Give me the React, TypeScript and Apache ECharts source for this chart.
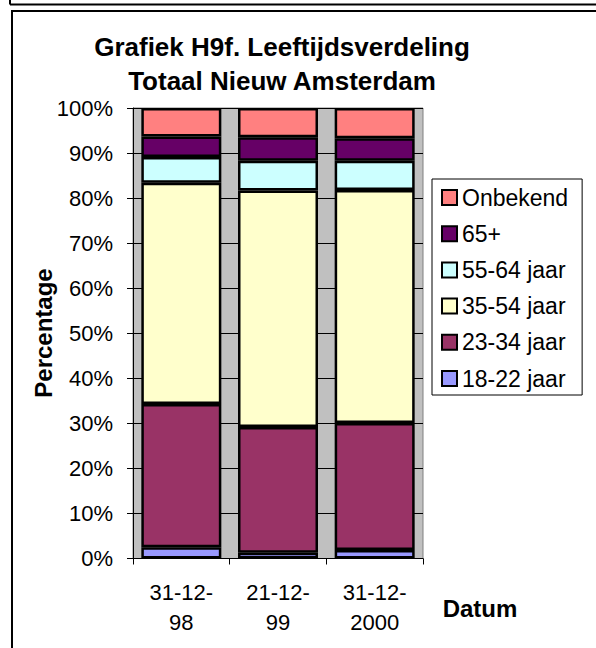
import React, { useEffect, useRef } from "react";
import * as echarts from "echarts";

const categories = ["31-12-\n98", "21-12-\n99", "31-12-\n2000"];
const seriesNames = ["18-22 jaar", "23-34 jaar", "35-54 jaar", "55-64 jaar", "65+", "Onbekend"];
const v18_22 = [2.5, 1.3, 1.9];
const v23_34 = [31.8, 27.9, 28.2];
const v35_54 = [49.1, 52.5, 51.7];
const v55_64 = [5.7, 6.6, 6.5];
const v65plus = [4.6, 5.2, 5.0];
const vOnbekend = [6.3, 6.5, 6.7];
const colors = ["#9999FF", "#993366", "#FFFFCC", "#CCFFFF", "#660066", "#FF8080"];
const yTicks = { min: 0, max: 100, interval: 10 };

const FONT = "'Liberation Sans', Arial, sans-serif";

export default function App() {
  const ref = useRef<HTMLDivElement>(null);
  useEffect(() => {
    if (!ref.current) return;
    const chart = echarts.init(ref.current, undefined, { renderer: "svg" });
    const values = [v18_22, v23_34, v35_54, v55_64, v65plus, vOnbekend];
    chart.setOption({
      animation: false,
      backgroundColor: "#ffffff",
      textStyle: { fontFamily: FONT },
      grid: {
        left: 133,
        top: 108,
        width: 290,
        height: 450.5,
        show: true,
        backgroundColor: "#C0C0C0",
        borderColor: "#808080",
        borderWidth: 1,
        containLabel: false,
      },
      legend: {
        orient: "vertical",
        left: 432,
        top: 179,
        data: seriesNames.slice().reverse(),
        icon: "rect",
        itemWidth: 15,
        itemHeight: 15,
        itemGap: 13.2,
        padding: [7, 14, 5, 9],
        borderColor: "#000",
        borderWidth: 1,
        backgroundColor: "#fff",
        itemStyle: { borderColor: "#000", borderWidth: 2 },
        textStyle: { fontSize: 23, color: "#000", fontFamily: FONT, lineHeight: 23 },
      },
      xAxis: {
        type: "category",
        data: categories,
        axisLine: { show: true, lineStyle: { color: "#000", width: 1 } },
        axisTick: { show: true, length: 6, lineStyle: { color: "#000" } },
        axisLabel: {
          interval: 0,
          fontSize: 22,
          lineHeight: 30,
          margin: 19,
          color: "#000",
          fontFamily: FONT,
        },
        splitLine: { show: false },
      },
      yAxis: {
        type: "value",
        min: yTicks.min,
        max: yTicks.max,
        interval: yTicks.interval,
        axisLine: { show: true, lineStyle: { color: "#000", width: 1 } },
        axisTick: { show: true, length: 6, lineStyle: { color: "#000" } },
        axisLabel: {
          formatter: "{value}%",
          fontSize: 22,
          margin: 20,
          color: "#000",
          fontFamily: FONT,
        },
        splitLine: { show: true, lineStyle: { color: "#000", width: 1 } },
      },
      series: seriesNames.map((name, i) => ({
        name,
        type: "bar",
        stack: "total",
        barWidth: 80,
        data: values[i],
        itemStyle: { color: colors[i], borderColor: "#000", borderWidth: 2.5 },
      })),
      graphic: [
        { type: "line", shape: { x1: 10, y1: 0, x2: 10, y2: 4.5 }, style: { stroke: "#000", lineWidth: 2 } },
        { type: "line", shape: { x1: 10, y1: 4.5, x2: 600, y2: 4.5 }, style: { stroke: "#000", lineWidth: 2 } },
        { type: "rect", shape: { x: 12, y: 11, width: 620, height: 700 }, style: { fill: "none", stroke: "#000", lineWidth: 2 } },
        {
          type: "text",
          x: 282,
          y: 47,
          style: {
            text: "Grafiek H9f. Leeftijdsverdeling",
            fontSize: 26,
            fontWeight: "bold",
            fontFamily: FONT,
            fill: "#000",
            align: "center",
            verticalAlign: "middle",
          },
        },
        {
          type: "text",
          x: 282,
          y: 81,
          style: {
            text: "Totaal Nieuw Amsterdam",
            fontSize: 26,
            fontWeight: "bold",
            fontFamily: FONT,
            fill: "#000",
            align: "center",
            verticalAlign: "middle",
          },
        },
        {
          type: "text",
          x: 43,
          y: 333,
          rotation: Math.PI / 2,
          style: {
            text: "Percentage",
            fontSize: 24,
            fontWeight: "bold",
            fontFamily: FONT,
            fill: "#000",
            align: "center",
            verticalAlign: "middle",
          },
        },
        {
          type: "text",
          x: 480,
          y: 608,
          style: {
            text: "Datum",
            fontSize: 24,
            fontWeight: "bold",
            fontFamily: FONT,
            fill: "#000",
            align: "center",
            verticalAlign: "middle",
          },
        },
      ],
    });
    return () => chart.dispose();
  }, []);
  return (
    <div
      ref={ref}
      style={{ position: "fixed", left: 0, top: 0, width: 596, height: 648 }}
    />
  );
}
